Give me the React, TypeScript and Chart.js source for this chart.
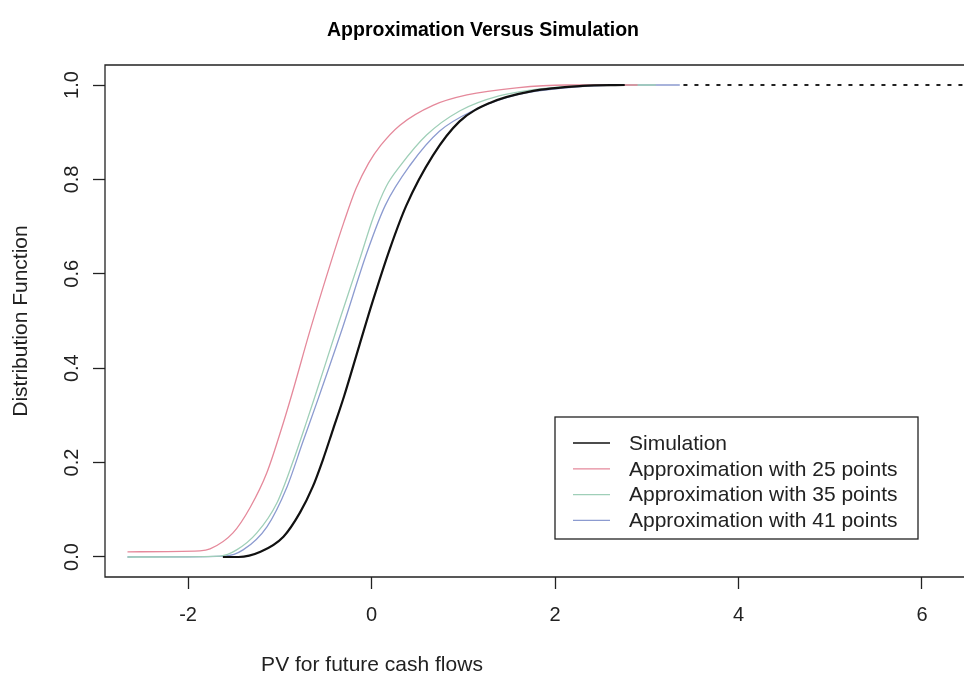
import React, { useEffect, useRef } from "react";
import { Chart, registerables } from "chart.js";

Chart.register(...registerables);

const seriesLabels = [
  "Simulation",
  "Approximation with 25 points",
  "Approximation with 35 points",
  "Approximation with 41 points",
];
const seriesColors = ["#111111", "#e5899b", "#9fcfb8", "#8c9bd0"];

const simX = [-1.62, -1.45, -1.21, -0.96, -0.78, -0.64, -0.53, -0.42, -0.3, -0.13, 0.01, 0.2, 0.38, 0.67, 0.96, 1.29, 1.75, 2.3, 2.76];
const simY = [0, 0, 0.011, 0.043, 0.094, 0.149, 0.206, 0.27, 0.34, 0.45, 0.54, 0.653, 0.745, 0.851, 0.923, 0.962, 0.987, 0.998, 1.0];

const a25X = [-2.66, -1.87, -1.76, -1.51, -1.32, -1.14, -0.96, -0.86, -0.67, -0.45, -0.3, -0.17, -0.03, 0.1, 0.31, 0.67, 1.04, 1.58, 2.12, 2.9];
const a25Y = [0.011, 0.013, 0.017, 0.051, 0.106, 0.179, 0.285, 0.35, 0.48, 0.62, 0.71, 0.78, 0.835, 0.872, 0.915, 0.957, 0.979, 0.994, 1.0, 1.0];

const a35X = [-2.66, -1.65, -1.47, -1.25, -1.03, -0.86, -0.7, -0.6, -0.37, -0.13, 0.02, 0.16, 0.31, 0.6, 0.96, 1.39, 1.94, 2.5, 3.1];
const a35Y = [0, 0.002, 0.015, 0.051, 0.115, 0.2, 0.291, 0.35, 0.489, 0.63, 0.72, 0.785, 0.828, 0.894, 0.945, 0.977, 0.994, 1.0, 1.0];

const a41X = [-2.66, -1.6, -1.4, -1.14, -0.92, -0.75, -0.6, -0.31, -0.05, 0.15, 0.42, 0.74, 1.1, 1.58, 2.12, 2.7, 3.36];
const a41Y = [0, 0.002, 0.015, 0.064, 0.149, 0.243, 0.325, 0.489, 0.645, 0.745, 0.83, 0.902, 0.945, 0.979, 0.994, 1.0, 1.0];

const tailX = [3.4, 6.46];
const tailY = [1.0, 1.0];

const xTicks = [-2, 0, 2, 4, 6];
const yTicks = [0, 0.2, 0.4, 0.6, 0.8, 1.0];

const chartTitle = "Approximation Versus Simulation";
const xTitle = "PV for future cash flows";
const yTitle = "Distribution Function";

const FONT = "'Liberation Sans', Arial, Helvetica, sans-serif";

const pts = (xs: number[], ys: number[]) => xs.map((x, i) => ({ x, y: ys[i] }));

const framePlugin = {
  id: "frameAndText",
  afterDraw(chart: any) {
    const { ctx, chartArea } = chart;
    const { left, top, bottom, right } = chartArea;
    ctx.save();
    ctx.strokeStyle = "#222";
    ctx.lineWidth = 1.3;
    ctx.beginPath();
    ctx.moveTo(right + 2, top);
    ctx.lineTo(left, top);
    ctx.lineTo(left, bottom);
    ctx.lineTo(right + 2, bottom);
    ctx.stroke();

    ctx.fillStyle = "#000";
    ctx.textAlign = "center";
    ctx.textBaseline = "middle";
    ctx.font = `bold 19.5px ${FONT}`;
    ctx.fillText(chartTitle, 483, 31);

    ctx.font = `21px ${FONT}`;
    ctx.fillStyle = "#222";
    ctx.fillText(xTitle, 372, 665);

    ctx.save();
    ctx.translate(21, (top + bottom) / 2);
    ctx.rotate(-Math.PI / 2);
    ctx.fillText(yTitle, 0, 0);
    ctx.restore();

    const lx = 555, ly = 417, lw = 363, lh = 122;
    ctx.fillStyle = "#fff";
    ctx.fillRect(lx, ly, lw, lh);
    ctx.strokeStyle = "#222";
    ctx.lineWidth = 1.3;
    ctx.strokeRect(lx, ly, lw, lh);
    ctx.textAlign = "left";
    ctx.font = `21px ${FONT}`;
    chart.data.datasets.forEach((ds: any, i: number) => {
      if (i >= seriesLabels.length) return;
      const yy = 443 + i * 25.8;
      ctx.strokeStyle = ds.borderColor;
      ctx.lineWidth = i === 0 ? 1.6 : 1.3;
      ctx.beginPath();
      ctx.moveTo(573, yy);
      ctx.lineTo(610, yy);
      ctx.stroke();
      ctx.fillStyle = "#222";
      ctx.fillText(ds.label, 629, yy + 1);
    });
    ctx.restore();
  },
};

export default function App() {
  const ref = useRef<HTMLCanvasElement>(null);
  useEffect(() => {
    document.body.style.margin = "0";
    document.body.style.overflow = "hidden";
    const canvas = ref.current!;
    const lineBase = {
      pointRadius: 0,
      fill: false,
      cubicInterpolationMode: "monotone" as const,
    };
    const chart = new Chart(canvas, {
      type: "line",
      data: {
        datasets: [
          { ...lineBase, label: seriesLabels[0], data: pts(simX, simY), borderColor: seriesColors[0], borderWidth: 2.2 },
          { ...lineBase, label: seriesLabels[1], data: pts(a25X, a25Y), borderColor: seriesColors[1], borderWidth: 1.3 },
          { ...lineBase, label: seriesLabels[2], data: pts(a35X, a35Y), borderColor: seriesColors[2], borderWidth: 1.3 },
          { ...lineBase, label: seriesLabels[3], data: pts(a41X, a41Y), borderColor: seriesColors[3], borderWidth: 1.3 },
          { ...lineBase, label: "tail", data: pts(tailX, tailY), borderColor: "#222", borderWidth: 2, borderDash: [4, 7] },
        ],
      },
      options: {
        animation: false,
        responsive: false,
        devicePixelRatio: 1,
        layout: { padding: { top: 65, left: 0, right: 0, bottom: 0 } },
        plugins: { legend: { display: false }, title: { display: false }, tooltip: { enabled: false } },
        scales: {
          x: {
            type: "linear",
            min: -2.905,
            max: 6.458,
            afterBuildTicks: (s: any) => { s.ticks = xTicks.map((v) => ({ value: v })); },
            afterFit: (s: any) => { s.height = 104; },
            grid: { drawOnChartArea: false, drawTicks: true, tickLength: 12, tickColor: "#222", tickWidth: 1.3 },
            border: { display: false },
            ticks: {
              autoSkip: false,
              padding: 14,
              color: "#222",
              font: { family: FONT, size: 20 },
              callback: (v: any) => String(v),
              maxRotation: 0,
            },
          },
          y: {
            type: "linear",
            min: -0.0424,
            max: 1.0424,
            afterBuildTicks: (s: any) => { s.ticks = yTicks.map((v) => ({ value: v })); },
            afterFit: (s: any) => { s.width = 105; },
            grid: { drawOnChartArea: false, drawTicks: true, tickLength: 12, tickColor: "#222", tickWidth: 1.3 },
            border: { display: false },
            ticks: {
              autoSkip: false,
              padding: 7,
              color: "#222",
              crossAlign: "center",
              minRotation: 90,
              maxRotation: 90,
              font: { family: FONT, size: 20 },
              callback: (v: any) => Number(v).toFixed(1),
            },
          },
        },
      },
      plugins: [framePlugin],
    });
    return () => chart.destroy();
  }, []);
  return (
    <div style={{ width: 964, height: 681, background: "#fff" }}>
      <canvas ref={ref} width={964} height={681} style={{ display: "block", width: 964, height: 681 }} />
    </div>
  );
}
